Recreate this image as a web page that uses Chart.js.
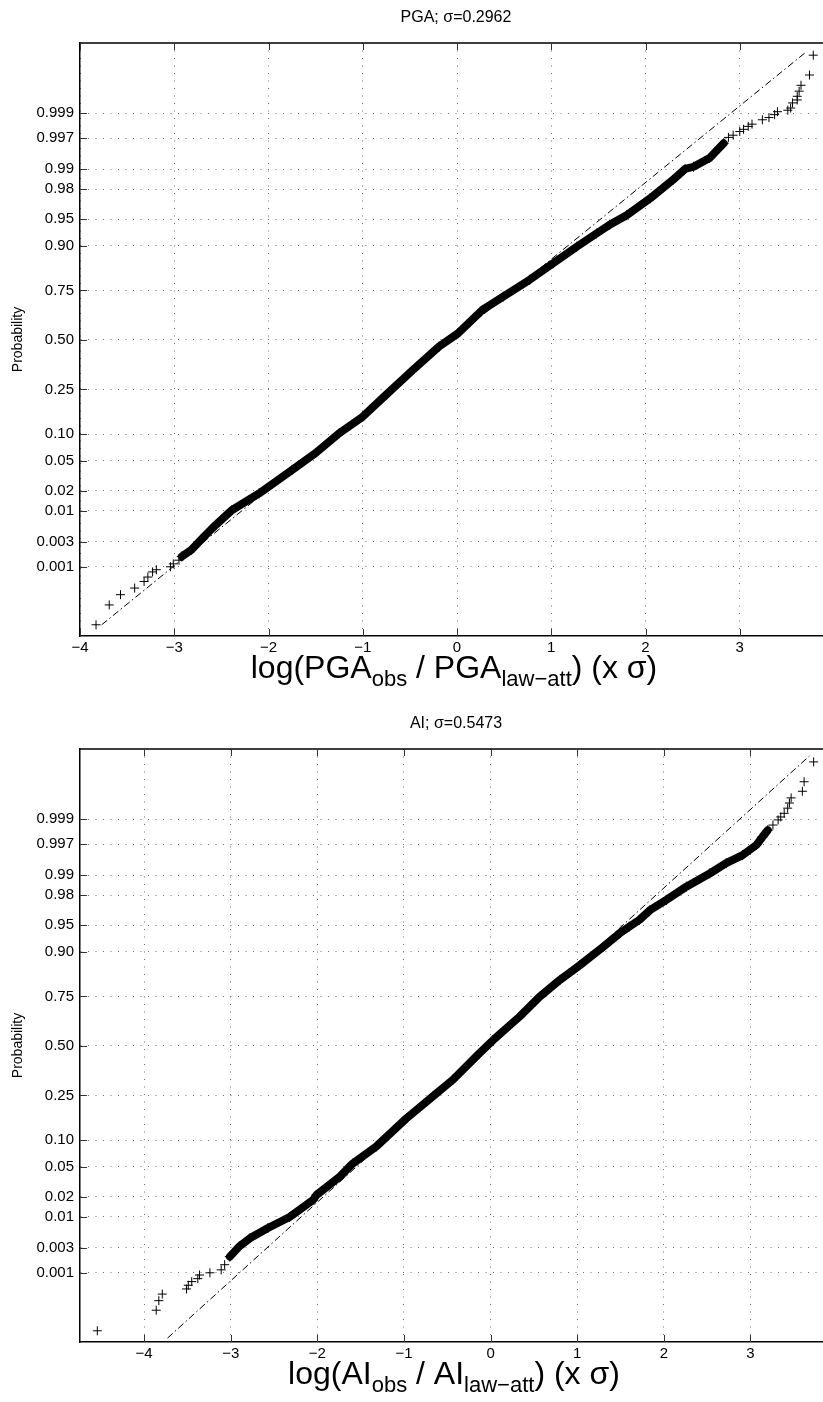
<!DOCTYPE html>
<html><head><meta charset="utf-8">
<script src="https://cdn.jsdelivr.net/npm/chart.js@4.4.0/dist/chart.umd.min.js"></script>
<style>
html,body{margin:0;padding:0;background:#fff;overflow:hidden;width:823px;height:1402px;}
.box{position:absolute;left:0;width:850px;height:701px;}
</style></head><body>
<div class="box" style="top:0"><canvas id="c1" width="850" height="701"></canvas></div>
<div class="box" style="top:701px"><canvas id="c2" width="850" height="701"></canvas></div>
<script>
// ---------- data (x = residual in sigma units, q = normal-probability plotting position as standard normal quantile) ----------
const probTickLabels = ['0.001','0.003','0.01','0.02','0.05','0.10','0.25','0.50','0.75','0.90','0.95','0.98','0.99','0.997','0.999'];

const pgaXTicks = [-4,-3,-2,-1,0,1,2,3,4];
const pgaLowX  = [-3.83,-3.69,-3.57,-3.42,-3.32,-3.28,-3.23,-3.19,-3.04,-3.01,-2.95,-2.92];
const pgaLowQ  = [-3.88,-3.61,-3.47,-3.38,-3.29,-3.23,-3.16,-3.13,-3.09,-3.05,-3.00,-2.95];
const pgaBandX = [-2.92,-2.82,-2.67,-2.56,-2.39,-2.10,-1.75,-1.50,-1.25,-1.00,-0.755,-0.47,-0.19,0.01,0.27,0.49,0.77,1.02,1.27,1.48,1.62,1.80,2.05,2.29,2.42,2.51,2.68,2.83];
const pgaBandQ = [-2.95,-2.86,-2.66,-2.52,-2.32,-2.09,-1.77,-1.54,-1.27,-1.045,-0.75,-0.41,-0.09,0.09,0.41,0.59,0.82,1.045,1.27,1.45,1.57,1.70,1.93,2.18,2.33,2.36,2.48,2.68];
const pgaHighX = [2.88,2.93,3.00,3.04,3.09,3.13,3.24,3.31,3.37,3.40,3.51,3.54,3.56,3.61,3.61,3.63,3.65,3.74,3.78];
const pgaHighQ = [2.76,2.79,2.84,2.87,2.91,2.94,3.00,3.03,3.07,3.11,3.13,3.16,3.23,3.27,3.32,3.39,3.47,3.61,3.88];
const pgaRefX  = [-3.77,3.71];
const pgaRefQ  = [-3.88,3.93];

const aiXTicks = [-4,-3,-2,-1,0,1,2,3];
const aiLowX  = [-4.54,-3.86,-3.83,-3.79,-3.51,-3.49,-3.45,-3.38,-3.36,-3.24,-3.11,-3.07];
const aiLowQ  = [-3.88,-3.60,-3.47,-3.38,-3.31,-3.26,-3.21,-3.17,-3.12,-3.09,-3.05,-2.98];
const aiBandX = [-3.01,-2.90,-2.78,-2.57,-2.32,-2.05,-2.01,-1.74,-1.59,-1.32,-0.97,-0.67,-0.435,-0.13,0.03,0.335,0.565,0.80,1.03,1.30,1.49,1.60,1.72,1.84,2.03,2.26,2.53,2.72,2.91,3.07,3.14,3.20];
const aiBandQ = [-2.87,-2.73,-2.62,-2.48,-2.33,-2.10,-2.03,-1.78,-1.60,-1.37,-0.985,-0.69,-0.46,-0.10,0.08,0.40,0.67,0.90,1.10,1.35,1.535,1.625,1.72,1.85,1.99,2.17,2.35,2.49,2.60,2.74,2.85,2.94];
const aiHighX = [3.26,3.32,3.35,3.39,3.43,3.45,3.47,3.60,3.62,3.73];
const aiHighQ = [3.01,3.08,3.12,3.17,3.24,3.31,3.38,3.47,3.60,3.87];
const aiRefX  = [-3.73,3.68];
const aiRefQ  = [-3.98,3.95];

// ---------- helpers ----------
function norminv(p){
  const a=[-3.969683028665376e+01,2.209460984245205e+02,-2.759285104469687e+02,1.383577518672690e+02,-3.066479806614716e+01,2.506628277459239e+00];
  const b=[-5.447609879822406e+01,1.615858368580409e+02,-1.556989798598866e+02,6.680131188771972e+01,-1.328068155288572e+01];
  const c=[-7.784894002430293e-03,-3.223964580411365e-01,-2.400758277161838e+00,-2.549732539343734e+00,4.374664141464968e+00,2.938163982698783e+00];
  const d=[7.784695709041462e-03,3.224671290700398e-01,2.445134137142996e+00,3.754408661907416e+00];
  const pl=0.02425, ph=1-pl; let q,r;
  if(p<pl){q=Math.sqrt(-2*Math.log(p));return (((((c[0]*q+c[1])*q+c[2])*q+c[3])*q+c[4])*q+c[5])/((((d[0]*q+d[1])*q+d[2])*q+d[3])*q+1);}
  if(p<=ph){q=p-0.5;r=q*q;return (((((a[0]*r+a[1])*r+a[2])*r+a[3])*r+a[4])*r+a[5])*q/(((((b[0]*r+b[1])*r+b[2])*r+b[3])*r+b[4])*r+1);}
  q=Math.sqrt(-2*Math.log(1-p));return -(((((c[0]*q+c[1])*q+c[2])*q+c[3])*q+c[4])*q+c[5])/((((d[0]*q+d[1])*q+d[2])*q+d[3])*q+1);
}
const zip = (xs, ys) => xs.map((x,i)=>({x:x, y:ys[i]}));
const FONT = "'Liberation Sans', Arial, Helvetica, sans-serif";
Chart.defaults.font.family = FONT;
Chart.defaults.color = '#000';

const decorPlugin = {
  id:'decor',
  afterDraw(chart, args, o){
    const ctx = chart.ctx, ca = chart.chartArea;
    const xs = chart.scales.x, ys = chart.scales.y;
    ctx.save();
    // box top and right
    ctx.strokeStyle = '#000'; ctx.lineWidth = 1.5;
    ctx.beginPath(); ctx.moveTo(ca.left, ca.top); ctx.lineTo(ca.right, ca.top); ctx.lineTo(ca.right, ca.bottom); ctx.stroke();
    // inward tick marks
    ctx.lineWidth = 1; ctx.strokeStyle = '#333';
    ctx.beginPath();
    xs.ticks.forEach(t => {
      const px = Math.round(xs.getPixelForValue(t.value)) + 0.5;
      ctx.moveTo(px, ca.bottom); ctx.lineTo(px, ca.bottom - 7);
      ctx.moveTo(px, ca.top); ctx.lineTo(px, ca.top + 7);
    });
    ys.ticks.forEach(t => {
      const py = Math.round(ys.getPixelForValue(t.value)) + 0.5;
      ctx.moveTo(ca.left, py); ctx.lineTo(ca.left + 7, py);
      ctx.moveTo(ca.right, py); ctx.lineTo(ca.right - 7, py);
    });
    ctx.stroke();
    // title
    ctx.fillStyle = '#000';
    ctx.font = '16px ' + FONT;
    ctx.textAlign = 'center'; ctx.textBaseline = 'middle';
    const cx = (ca.left + ca.right) / 2;
    ctx.fillText(o.title, cx - 1, ca.top - 25);
    // y label
    ctx.save();
    ctx.translate(18, (ca.top + ca.bottom) / 2);
    ctx.rotate(-Math.PI/2);
    ctx.font = '14px ' + FONT;
    ctx.fillText('Probability', 0, 0);
    ctx.restore();
    // x label with subscripts
    const mainF = '32px ' + FONT, subF = '22px ' + FONT;
    let total = 0;
    o.xlabel.forEach(s => { ctx.font = s.sub ? subF : mainF; s.w = ctx.measureText(s.t).width; total += s.w; });
    let x = cx - 3 - total / 2;
    const base = ca.bottom + 42;
    ctx.textAlign = 'left'; ctx.textBaseline = 'alphabetic';
    o.xlabel.forEach(s => { ctx.font = s.sub ? subF : mainF; ctx.fillText(s.t, x, s.sub ? base + 8 : base); x += s.w; });
    ctx.restore();
  }
};

function makeChart(id, cfg){
  const tickFont = {family: FONT, size: 15};
  return new Chart(document.getElementById(id), {
    type: 'scatter',
    data: { datasets: [
      { data: zip(cfg.lowX, cfg.lowQ), showLine:false, pointStyle:'cross', pointRadius:4.5, pointBorderWidth:1, borderColor:'#000', backgroundColor:'#000' },
      { data: zip(cfg.bandX, cfg.bandQ), showLine:true, borderColor:'#000', borderWidth:8, borderJoinStyle:'round', borderCapStyle:'round', pointStyle:'cross', pointRadius:5, pointBorderWidth:1, pointBorderColor:'#000', backgroundColor:'#000' },
      { data: zip(cfg.highX, cfg.highQ), showLine:false, pointStyle:'cross', pointRadius:4.5, pointBorderWidth:1, borderColor:'#000', backgroundColor:'#000' },
      { data: zip(cfg.refX, cfg.refQ), showLine:true, borderColor:'#000', borderWidth:1, borderDash:[7,3,1.5,3], pointRadius:0 }
    ]},
    options: {
      responsive:false, animation:false,
      layout: { padding: { left:0, right:16, top: cfg.padTop, bottom: cfg.padBottom } },
      plugins: { legend:{display:false}, tooltip:{enabled:false}, decor: cfg.decor },
      scales: {
        x: {
          type:'linear', min: cfg.xmin, max: cfg.xmax,
          afterBuildTicks: s => { s.ticks = cfg.xTicks.map(v => ({value:v})); },
          afterFit: s => { s.height = 30; },
          ticks: { font: tickFont, color:'#000', padding:3, autoSkip:false, maxRotation:0,
                   callback: v => (v < 0 ? '\u2212' + Math.abs(v) : String(v)) },
          grid: { color:'#6e6e6e', lineWidth:1, drawTicks:false },
          border: { display:true, color:'#000', width:1.5, dash:[1,6.5] }
        },
        y: {
          type:'linear', min:-4.033, max:4.046,
          afterBuildTicks: s => { s.ticks = probTickLabels.map(p => ({value: norminv(parseFloat(p))})); },
          afterFit: s => { s.width = 80; },
          ticks: { font: tickFont, color:'#000', padding:6, autoSkip:false,
                   callback: (v, i) => probTickLabels[i] },
          grid: { color:'#6e6e6e', lineWidth:1, drawTicks:false },
          border: { display:true, color:'#000', width:1.5, dash:[1,6.5] }
        }
      }
    },
    plugins: [decorPlugin]
  });
}

makeChart('c1', {
  lowX:pgaLowX, lowQ:pgaLowQ, bandX:pgaBandX, bandQ:pgaBandQ, highX:pgaHighX, highQ:pgaHighQ, refX:pgaRefX, refQ:pgaRefQ,
  xmin:-4, xmax:4, xTicks:pgaXTicks, padTop:43, padBottom:35,
  decor: { title:'PGA; \u03c3=0.2962', xlabel:[{t:'log(PGA'},{t:'obs',sub:true},{t:' / PGA'},{t:'law\u2212att',sub:true},{t:') (x \u03c3)'}] }
});
makeChart('c2', {
  lowX:aiLowX, lowQ:aiLowQ, bandX:aiBandX, bandQ:aiBandQ, highX:aiHighX, highQ:aiHighQ, refX:aiRefX, refQ:aiRefQ,
  xmin:-4.74, xmax:3.965, xTicks:aiXTicks, padTop:48, padBottom:30,
  decor: { title:'AI; \u03c3=0.5473', xlabel:[{t:'log(AI'},{t:'obs',sub:true},{t:' / AI'},{t:'law\u2212att',sub:true},{t:') (x \u03c3)'}] }
});
</script></body></html>
